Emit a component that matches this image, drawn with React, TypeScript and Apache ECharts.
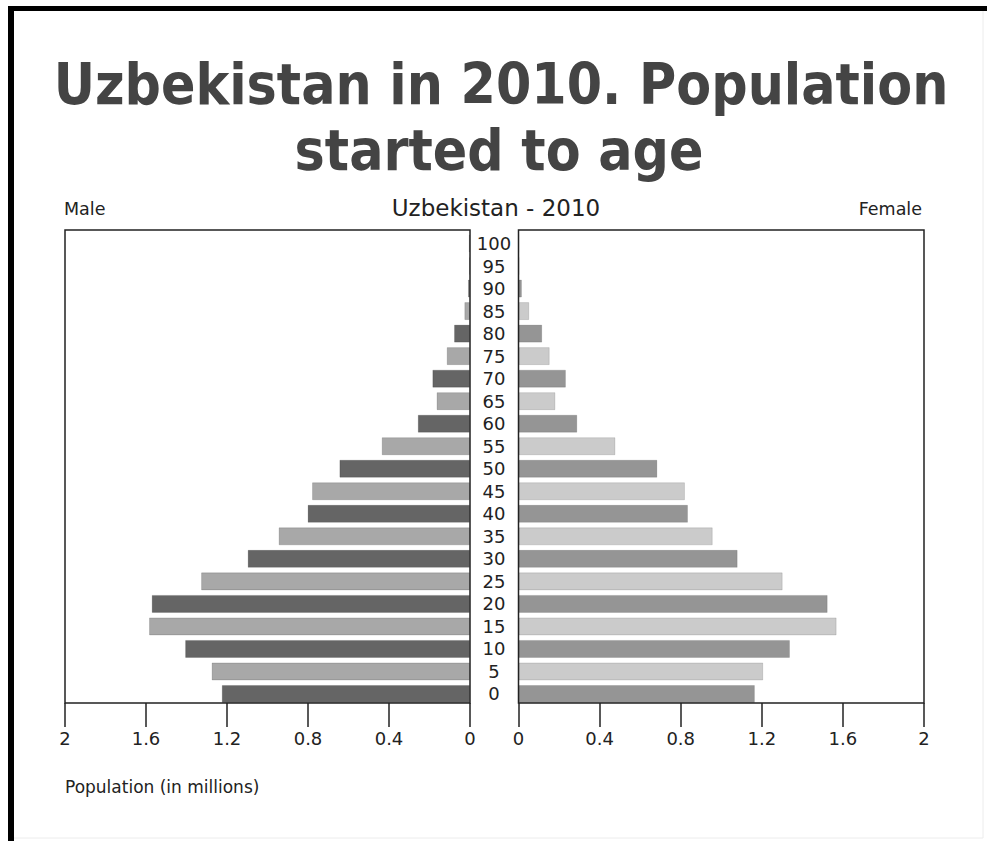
import React, { useEffect, useRef } from 'react';
import * as echarts from 'echarts';

// Age groups (lower bound of each 5-year group)
const ageGroups = ['0', '5', '10', '15', '20', '25', '30', '35', '40', '45', '50', '55', '60', '65', '70', '75', '80', '85', '90', '95', '100'];

// Population in millions
const maleMillions = [1.226, 1.276, 1.407, 1.585, 1.572, 1.328, 1.098, 0.945, 0.802, 0.78, 0.645, 0.436, 0.258, 0.165, 0.186, 0.115, 0.079, 0.028, 0.01, 0.005, 0.006];
const femaleMillions = [1.166, 1.207, 1.339, 1.569, 1.525, 1.303, 1.081, 0.958, 0.836, 0.821, 0.685, 0.478, 0.29, 0.182, 0.234, 0.154, 0.117, 0.053, 0.017, 0.003, 0.001];

// Axis ticks
const axisMin = 0;
const axisMax = 2;
const axisStep = 0.4;

const titleLines = ['Uzbekistan in 2010. Population', 'started to age'];
const chartTitle = 'Uzbekistan - 2010';
const leftLabel = 'Male';
const rightLabel = 'Female';
const xAxisLabel = 'Population (in millions)';

export default function App() {
  const ref = useRef<HTMLDivElement>(null);

  useEffect(() => {
    if (!ref.current) return;
    const chart = echarts.init(ref.current, null, { renderer: 'svg' });

    const textColor = '#222';
    const frameColor = '#222';
    const labelFont = 'DejaVu Sans';
    const titleFont = '"DejaVu Sans Condensed", "DejaVu Sans"';

    const plotTop = 230;
    const plotBottom = 703;
    const leftX0 = 65;
    const leftX1 = 470;
    const rightX0 = 518.5;
    const rightX1 = 924;
    const shift = 2.25;

    const makeX = (gridIndex: number, inverse: boolean) => ({
      type: 'value',
      gridIndex,
      min: axisMin,
      max: axisMax,
      interval: axisStep,
      inverse,
      position: 'bottom',
      offset: -shift,
      axisLine: { show: false },
      splitLine: { show: false },
      axisTick: { show: true, length: 24, lineStyle: { color: frameColor, width: 1.5 } },
      axisLabel: { show: true, margin: 26, fontSize: 18, color: textColor, fontFamily: labelFont, showMinLabel: true, showMaxLabel: true },
    });

    const option: any = {
      animation: false,
      backgroundColor: '#ffffff',
      grid: [
        { left: leftX0, top: plotTop + shift, width: leftX1 - leftX0, height: plotBottom - plotTop, containLabel: false, outerBoundsMode: 'none' },
        { left: rightX0, top: plotTop + shift, width: rightX1 - rightX0, height: plotBottom - plotTop, containLabel: false, outerBoundsMode: 'none' },
      ],
      xAxis: [makeX(0, true), makeX(1, false)],
      yAxis: [
        {
          type: 'category',
          gridIndex: 0,
          data: ageGroups,
          position: 'right',
          axisLine: { show: false },
          axisTick: { show: false },
          axisLabel: { show: true, align: 'center', margin: 24, fontSize: 18, color: textColor, fontFamily: labelFont, interval: 0 },
        },
        {
          type: 'category',
          gridIndex: 1,
          data: ageGroups,
          position: 'left',
          axisLine: { show: false },
          axisTick: { show: false },
          axisLabel: { show: false },
        },
      ],
      series: [
        {
          name: 'Male',
          type: 'bar',
          xAxisIndex: 0,
          yAxisIndex: 0,
          data: maleMillions,
          barWidth: '80%',
          itemStyle: {
            color: (p: any) => (p.dataIndex % 2 === 0 ? '#656565' : '#a8a8a8'),
            borderColor: 'rgba(0,0,0,0.15)',
            borderWidth: 1,
          },
        },
        {
          name: 'Female',
          type: 'bar',
          xAxisIndex: 1,
          yAxisIndex: 1,
          data: femaleMillions,
          barWidth: '80%',
          itemStyle: {
            color: (p: any) => (p.dataIndex % 2 === 0 ? '#959595' : '#cbcbcb'),
            borderColor: 'rgba(0,0,0,0.12)',
            borderWidth: 1,
          },
        },
      ],
      graphic: [
        // outer image border (black L-shape + faint edges)
        { type: 'rect', shape: { x: 8, y: 6, width: 6, height: 835 }, style: { fill: '#000' }, z: 100 },
        { type: 'rect', shape: { x: 8, y: 6, width: 979, height: 5 }, style: { fill: '#000' }, z: 100 },
        { type: 'line', shape: { x1: 983, y1: 11, x2: 983, y2: 838 }, style: { stroke: '#ececec', lineWidth: 1 }, z: 100 },
        { type: 'line', shape: { x1: 14, y1: 838, x2: 983, y2: 838 }, style: { stroke: '#ececec', lineWidth: 1 }, z: 100 },
        // plot frames
        { type: 'rect', shape: { x: leftX0, y: plotTop, width: leftX1 - leftX0, height: plotBottom - plotTop }, style: { fill: 'none', stroke: frameColor, lineWidth: 1.5 }, z: 100 },
        { type: 'rect', shape: { x: rightX0, y: plotTop, width: rightX1 - rightX0, height: plotBottom - plotTop }, style: { fill: 'none', stroke: frameColor, lineWidth: 1.5 }, z: 100 },
        // titles
        { type: 'text', x: 501, y: 84, style: { text: titleLines[0], fontSize: 56.5, fontWeight: 'bold', fontFamily: titleFont, fill: '#444', align: 'center', verticalAlign: 'middle' }, z: 100 },
        { type: 'text', x: 499, y: 150, style: { text: titleLines[1], fontSize: 56.5, fontWeight: 'bold', fontFamily: titleFont, fill: '#444', align: 'center', verticalAlign: 'middle' }, z: 100 },
        { type: 'text', x: 496, y: 208, style: { text: chartTitle, fontSize: 23, fontFamily: labelFont, fill: textColor, align: 'center', verticalAlign: 'middle' }, z: 100 },
        { type: 'text', x: 64, y: 209, style: { text: leftLabel, fontSize: 17.5, fontFamily: labelFont, fill: textColor, align: 'left', verticalAlign: 'middle' }, z: 100 },
        { type: 'text', x: 922, y: 209, style: { text: rightLabel, fontSize: 17.5, fontFamily: labelFont, fill: textColor, align: 'right', verticalAlign: 'middle' }, z: 100 },
        { type: 'text', x: 65, y: 787, style: { text: xAxisLabel, fontSize: 17, fontFamily: labelFont, fill: textColor, align: 'left', verticalAlign: 'middle' }, z: 100 },
      ],
    };

    chart.setOption(option);
    return () => chart.dispose();
  }, []);

  return (
    <div
      ref={ref}
      style={{ position: 'fixed', left: 0, top: 0, width: 987, height: 841, background: '#fff' }}
    />
  );
}
